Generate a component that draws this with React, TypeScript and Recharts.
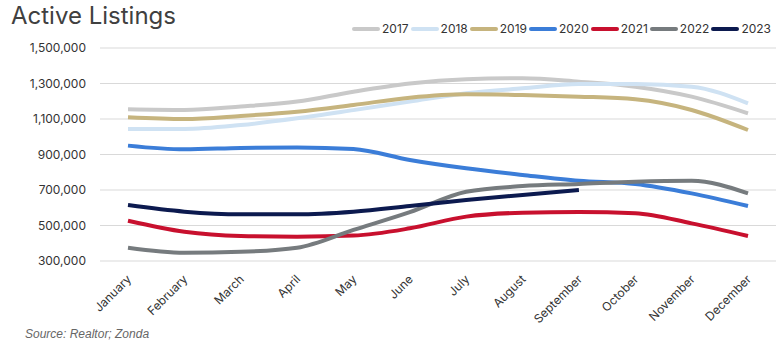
import React from "react";
import { LineChart, Line, XAxis, YAxis, CartesianGrid } from "recharts";

const months = ["January","February","March","April","May","June","July","August","September","October","November","December"];
const years = ["2017","2018","2019","2020","2021","2022","2023"];
const colors = ["#c9c9c9","#cfe2f3","#c6b47e","#3b7dd8","#c8102e","#767b7e","#0c1a4f"];

const s2017 = [1155000,1151000,1170000,1198000,1254000,1300000,1324000,1330000,1310000,1282000,1226000,1132000];
const s2018 = [1044000,1044000,1066000,1104000,1150000,1198000,1245000,1273000,1297000,1297000,1282000,1188000];
const s2019 = [1110000,1100000,1117000,1141000,1179000,1220000,1239000,1235000,1226000,1211000,1151000,1038000];
const s2020 = [950000,929000,937000,940000,931000,869000,822000,785000,752000,734000,681000,610000];
const s2021 = [527000,465000,441000,437000,443000,484000,550000,572000,576000,569000,512000,441000];
const s2022 = [375000,347000,352000,375000,475000,575000,690000,722000,734000,747000,752000,681000];
const s2023 = [615000,578000,563000,563000,578000,610000,644000,672000,700000,null,null,null];

const yTicks = [300000,500000,700000,900000,1100000,1300000,1500000];

const seriesList = [s2017,s2018,s2019,s2020,s2021,s2022,s2023];

const data = months.map((m, i) => {
  const row: any = { month: m };
  years.forEach((y, k) => { row[y] = seriesList[k][i]; });
  return row;
});

const MonthTick = (props: any) => {
  const { x, y, payload } = props;
  return (
    <g transform={`translate(${x + 4},${y + 11})`}>
      <text x={0} y={0} textAnchor="end" transform="rotate(-45)" fill="#333" fontSize={12} fontFamily="Inter, sans-serif">
        {payload.value}
      </text>
    </g>
  );
};

export default function App() {
  return (
    <div style={{ position: "absolute", left: 0, top: 0, width: 780, height: 350, background: "#fff" }}>
      <div style={{ position: "absolute", left: 11, top: 1, fontFamily: "Inter, sans-serif", fontSize: 24, color: "#404040", lineHeight: "30px" }}>
        Active Listings
      </div>
      <div style={{ position: "absolute", left: 352, top: 21, display: "flex", alignItems: "center", fontFamily: "Inter, sans-serif", fontSize: 12, color: "#333", lineHeight: "16px" }}>
        {years.map((y, k) => (
          <div key={y} style={{ display: "flex", alignItems: "center", marginRight: k === years.length - 1 ? 0 : 2 }}>
            <div style={{ width: 28, height: 4, borderRadius: 2, background: colors[k], marginRight: 2 }} />
            <span>{y}</span>
          </div>
        ))}
      </div>
      <div style={{ position: "absolute", left: 25, top: 327, fontFamily: "'Liberation Sans', Arial, sans-serif", fontStyle: "italic", fontSize: 12, color: "#666" }}>
        Source: Realtor; Zonda
      </div>
      <LineChart width={780} height={350} data={data} margin={{ top: 48, right: 4, bottom: 19, left: 10 }} style={{ position: "absolute", left: 0, top: 0 }}>
        <CartesianGrid vertical={false} stroke="#d9d9d9" />
        <XAxis dataKey="month" axisLine={false} tickLine={false} height={70} tick={<MonthTick />} interval={0} padding={{ left: 28, right: 28 }} />
        <YAxis
          width={90}
          domain={[300000, 1500000]}
          ticks={yTicks}
          axisLine={false}
          tickLine={false}
          tickMargin={8}
          tick={{ fill: "#333", fontSize: 12, fontFamily: "Inter, sans-serif" }}
          tickFormatter={(v: number) => v.toLocaleString("en-US")}
        />
        {years.map((y, k) => (
          <Line key={y} type="monotone" dataKey={y} stroke={colors[k]} strokeWidth={4} dot={false} isAnimationActive={false} connectNulls={false} />
        ))}
      </LineChart>
    </div>
  );
}
